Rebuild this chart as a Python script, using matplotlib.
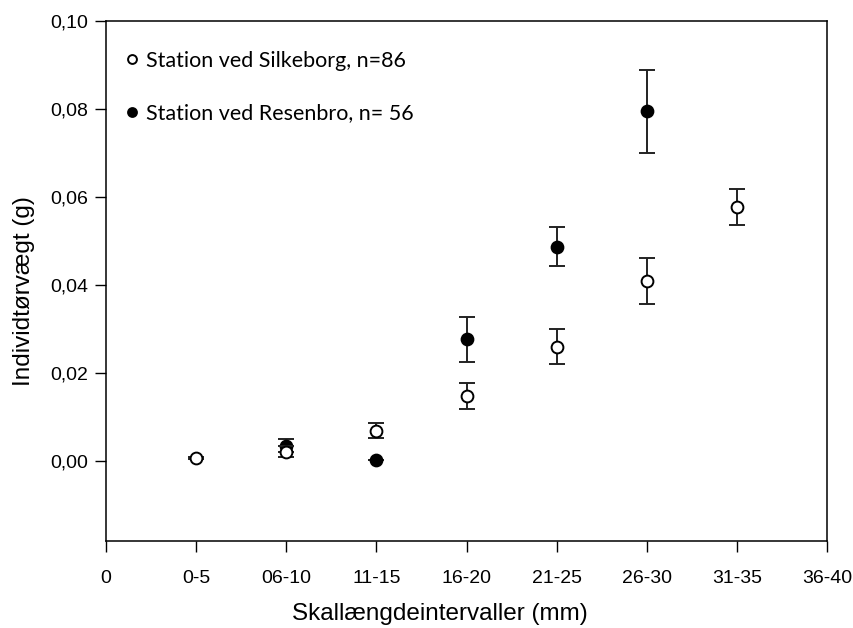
import numpy as np
import matplotlib
matplotlib.use("Agg")
import matplotlib.pyplot as plt

# Data
x_labels = ["0", "0-5", "06-10", "11-15", "16-20", "21-25", "26-30", "31-35", "36-40"]
y_ticks = [0.00, 0.02, 0.04, 0.06, 0.08, 0.10]
y_labels = ["0,00", "0,02", "0,04", "0,06", "0,08", "0,10"]

silkeborg_x = [1, 2, 3, 4, 5, 6, 7]
silkeborg_y = [0.0007, 0.0021, 0.0069, 0.0148, 0.0260, 0.0409, 0.0577]
silkeborg_err = [0.0003, 0.0012, 0.0017, 0.0030, 0.0040, 0.0052, 0.0041]

resenbro_x = [2, 3, 4, 5, 6]
resenbro_y = [0.0035, 0.0001, 0.0277, 0.0487, 0.0795]
resenbro_err = [0.0015, 0.0, 0.0051, 0.0045, 0.0094]

plt.rcParams["font.family"] = ["Liberation Sans", "DejaVu Sans"]

fig = plt.figure(figsize=(8.54, 6.28), dpi=100)
ax = fig.add_axes([106 / 854, 1 - 541 / 628, (827 - 106) / 854, (541 - 21) / 628])

eb_kw = dict(fmt="o", color="black", ecolor="#222222", elinewidth=1.4,
             capsize=6, capthick=1.4, markersize=8.5, markeredgewidth=1.4)
ax.errorbar(resenbro_x, resenbro_y, yerr=resenbro_err, mfc="black", mec="black",
            label="Station ved Resenbro, n= 56", zorder=2, **eb_kw)
ax.errorbar(silkeborg_x, silkeborg_y, yerr=silkeborg_err, mfc="white", mec="black",
            label="Station ved Silkeborg, n=86", zorder=3, **eb_kw)

ax.set_xlim(0, 8)
ax.set_ylim(-0.0182, 0.10)
ax.set_xticks(range(len(x_labels)))
ax.set_xticklabels(x_labels)
ax.set_yticks(y_ticks)
ax.set_yticklabels(y_labels)
ax.tick_params(direction="out", length=8, width=1, labelsize=14, pad=13)
ax.tick_params(axis="y", pad=5)
for s in ax.spines.values():
    s.set_linewidth(1.1)

ax.set_xlabel("Skallængdeintervaller (mm)", fontsize=17.5)
ax.set_ylabel("Individtørvægt (g)", fontsize=17.5)
ax.xaxis.set_label_coords(0.463, -0.12)
ax.yaxis.set_label_coords(-0.099, 0.481)

# legend, Silkeborg first
h, l = ax.get_legend_handles_labels()
h = [hh[0] for hh in h]
leg = ax.legend(h[::-1], l[::-1], loc="upper left", bbox_to_anchor=(0.0, 0.98),
                frameon=False, handlelength=0.6, handletextpad=0.35, labelspacing=1.5,
                markerscale=0.75, prop={"family": ["Lato", "DejaVu Sans"], "size": 15.5})

fig.savefig("out.png", dpi=100)
